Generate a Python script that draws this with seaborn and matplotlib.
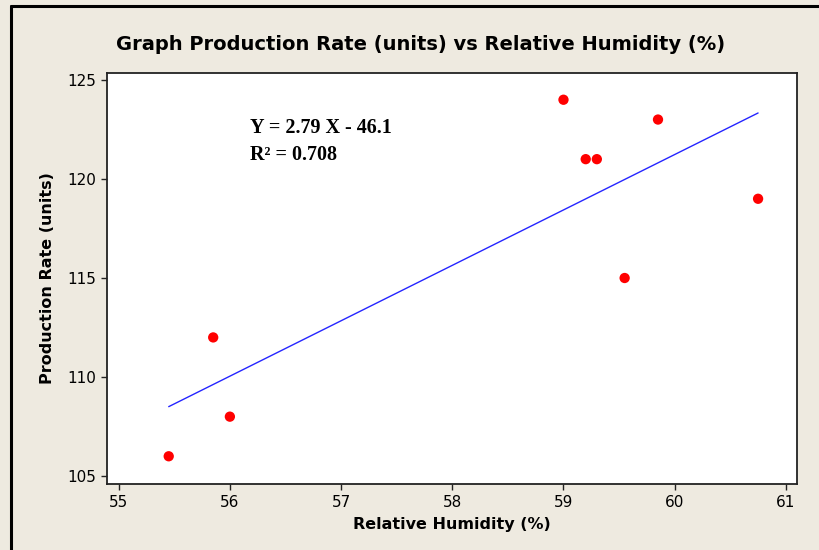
import matplotlib
matplotlib.use("Agg")
import matplotlib.pyplot as plt
from matplotlib.lines import Line2D
import pandas as pd
import seaborn as sns

# values
humidity = [55.45, 55.85, 56.0, 59.0, 59.2, 59.3, 59.55, 59.85, 60.75]
production = [106, 112, 108, 124, 121, 121, 115, 123, 119]
x_ticks = [55, 56, 57, 58, 59, 60, 61]
y_ticks = [105, 110, 115, 120, 125]

df = pd.DataFrame({"humidity": humidity, "production": production})

sns.set_style("white")
plt.rcParams["font.family"] = ["DejaVu Sans"]
plt.rcParams["text.color"] = "black"
plt.rcParams["axes.labelcolor"] = "black"
plt.rcParams["xtick.color"] = "black"
plt.rcParams["ytick.color"] = "black"

bg = "#EEEAE0"
fig = plt.figure(figsize=(8.19, 5.5), dpi=100, facecolor=bg)
ax = fig.add_axes([107 / 819, 1 - 484 / 550, 690 / 819, 411 / 550])
ax.set_facecolor("white")

sns.regplot(data=df, x="humidity", y="production", ax=ax, ci=None,
            scatter_kws={"color": "red", "s": 55, "edgecolor": "none", "alpha": 1},
            line_kws={"color": "#2525FF", "lw": 1.0})

ax.set_xlim(54.895, 61.10)
ax.set_ylim(104.6, 125.35)
ax.set_xticks(x_ticks)
ax.set_yticks(y_ticks)
ax.tick_params(axis="both", direction="out", length=4, width=1, color="#222222",
               labelsize=11, pad=4, bottom=True, left=True)
for s in ax.spines.values():
    s.set_color("#222222")
    s.set_linewidth(1.3)

ax.set_xlabel("Relative Humidity (%)", fontsize=11.5, fontweight="bold", labelpad=5)
ax.set_ylabel("Production Rate (units)", fontsize=11.5, fontweight="bold", labelpad=9)

fig.text(0.513, 1 - 45 / 550, "Graph Production Rate (units) vs Relative Humidity (%)",
         ha="center", va="center", fontsize=14, fontweight="bold")

ax.text(0.207, 0.89, "Y = 2.79 X - 46.1\nR² = 0.708", transform=ax.transAxes,
        ha="left", va="top", fontsize=14.5, fontweight="bold",
        family="Liberation Serif", linespacing=1.45)

# window frame lines on left and top
fig.add_artist(Line2D([11 / 819, 11 / 819], [0, 1 - 6 / 550], color="black", lw=2.2))
fig.add_artist(Line2D([11 / 819, 1], [1 - 6 / 550, 1 - 6 / 550], color="black", lw=2.2))

fig.savefig("out.png", dpi=100, facecolor=bg)
